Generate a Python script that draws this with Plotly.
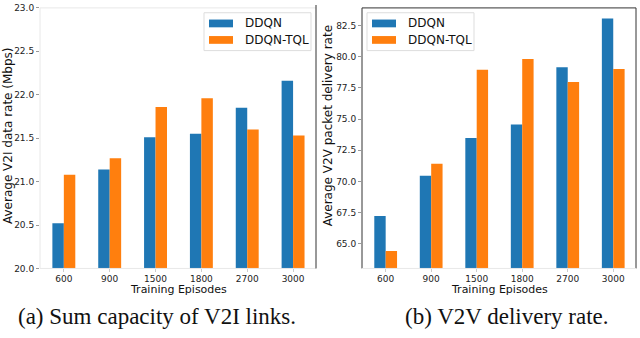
import plotly.graph_objects as go

# training episodes on the x axis
episodes = ["600", "900", "1500", "1800", "2700", "3000"]

# (a) average V2I data rate (Mbps)
v2i_ddqn = [20.52, 21.14, 21.51, 21.55, 21.85, 22.16]
v2i_tql = [21.08, 21.27, 21.86, 21.96, 21.60, 21.53]

# (b) average V2V packet delivery rate
v2v_ddqn = [67.23, 70.45, 73.49, 74.56, 79.15, 83.05]
v2v_tql = [64.43, 71.41, 78.94, 79.80, 77.96, 79.00]

W, H = 640, 338
BLUE = "#1f77b4"
ORANGE = "#ff7f0e"
FONT = "DejaVu Sans"


def px(x):
    return x / W


def py(y):
    return (H - y) / H


fig = go.Figure()

fig.add_trace(go.Bar(x=episodes, y=v2i_ddqn, name="DDQN", marker=dict(color=BLUE, line_width=0),
                     xaxis="x", yaxis="y"))
fig.add_trace(go.Bar(x=episodes, y=v2i_tql, name="DDQN-TQL", marker=dict(color=ORANGE, line_width=0),
                     xaxis="x", yaxis="y"))
fig.add_trace(go.Bar(x=episodes, y=v2v_ddqn, name="DDQN", marker=dict(color=BLUE, line_width=0),
                     xaxis="x2", yaxis="y2"))
fig.add_trace(go.Bar(x=episodes, y=v2v_tql, name="DDQN-TQL", marker=dict(color=ORANGE, line_width=0),
                     xaxis="x2", yaxis="y2"))

tickfont = dict(family=FONT, size=9, color="#222")
xcommon = dict(type="category", range=[-0.52, 5.5], showgrid=False, zeroline=False,
               ticks="outside", ticklen=3, tickcolor="#ccc", tickfont=tickfont, showline=False,
               ticklabelstandoff=-1)
ycommon = dict(showgrid=False, zeroline=False, ticks="outside", ticklen=3, tickcolor="#999",
               tickfont=tickfont, tickformat=".1f", showline=False, ticklabeloverflow="allow")

ydom = [py(271.5), py(3)]
fig.update_layout(
    width=W, height=H,
    margin=dict(l=0, r=0, t=0, b=0),
    paper_bgcolor="white", plot_bgcolor="white",
    barmode="group", bargap=0.5, bargroupgap=0,
    showlegend=False,
    xaxis=dict(domain=[px(40), px(316)], anchor="y", **xcommon),
    yaxis=dict(domain=ydom, anchor="x", range=[20.0, 23.0], dtick=0.5, tick0=20, **ycommon),
    xaxis2=dict(domain=[px(362), px(636)], anchor="y2", **xcommon),
    yaxis2=dict(domain=ydom, anchor="x2", range=[63.03, 83.9], dtick=2.5, tick0=65, **ycommon),
)

shapes = []
# spines
light = "#e8e8e8"
dark = "#333"
for x0, y0, x1, y1, c in [
    (40, 3, 40, 271.5, light), (40, 271.5, 316, 271.5, light), (40, 3, 316, 3, light),
    (316, 0, 316, 271.5, dark),
    (362, 3, 362, 271.5, dark), (362, 3, 636, 3, dark), (636, 3, 636, 271.5, dark),
    (362, 271.5, 636, 271.5, light),
]:
    shapes.append(dict(type="line", xref="paper", yref="paper", x0=px(x0), y0=py(y0),
                       x1=px(x1), y1=py(y1), line=dict(color=c, width=1)))

annotations = []
# legends drawn by hand so the patches are wide rectangles like matplotlib
for lx, ly in [(204, 8), (367, 8)]:
    shapes.append(dict(type="rect", xref="paper", yref="paper", x0=px(lx), y0=py(ly),
                       x1=px(lx + 107), y1=py(ly + 39), fillcolor="white",
                       line=dict(color="#ddd", width=1)))
    for i, (label, col) in enumerate([("DDQN", BLUE), ("DDQN-TQL", ORANGE)]):
        yc = ly + 11 + i * 17
        shapes.append(dict(type="rect", xref="paper", yref="paper", x0=px(lx + 5), y0=py(yc - 4),
                           x1=px(lx + 29), y1=py(yc + 4), fillcolor=col, line_width=0))
        annotations.append(dict(text=label, xref="paper", yref="paper", x=px(lx + 39), y=py(yc),
                                xanchor="left", yanchor="middle", showarrow=False,
                                font=dict(family=FONT, size=12, color="#111")))

# axis titles
for xc in [178, 499]:
    annotations.append(dict(text="Training Episodes", xref="paper", yref="paper", x=px(xc), y=py(293),
                            xanchor="center", yanchor="middle", showarrow=False,
                            font=dict(family=FONT, size=11, color="#111")))
annotations.append(dict(text="Average V2I data rate (Mbps)", xref="paper", yref="paper", x=px(8),
                        y=py(135), textangle=-90, xanchor="center", yanchor="middle", showarrow=False,
                        font=dict(family=FONT, size=12, color="#111")))
annotations.append(dict(text="Average V2V packet delivery rate", xref="paper", yref="paper", x=px(328),
                        y=py(125), textangle=-90, xanchor="center", yanchor="middle", showarrow=False,
                        font=dict(family=FONT, size=12, color="#111")))

# captions
for xc, txt in [(157, "(a) Sum capacity of V2I links."), (507, "(b) V2V delivery rate.")]:
    annotations.append(dict(text=txt, xref="paper", yref="paper", x=px(xc), y=py(321),
                            xanchor="center", yanchor="middle", showarrow=False,
                            font=dict(family="Liberation Serif", size=23, color="#111")))

fig.update_layout(shapes=shapes, annotations=annotations)

# the page's default body margin would push the figure 8px down and right
fig.write_html("out.html", config={"displayModeBar": False},
               post_script="document.body.style.margin='0';")
